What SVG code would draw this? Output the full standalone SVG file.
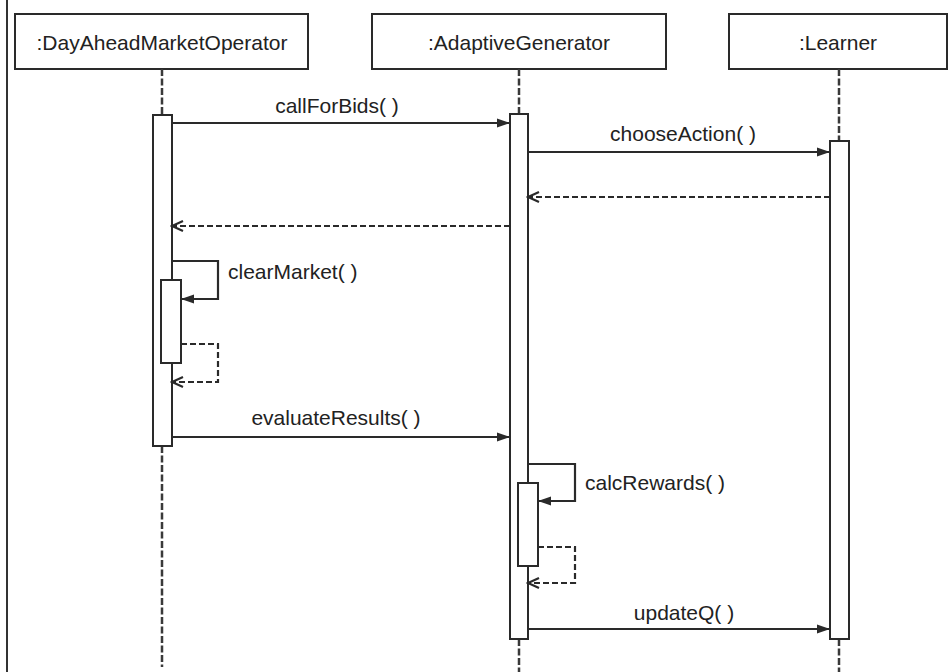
<svg xmlns="http://www.w3.org/2000/svg" width="950" height="672" viewBox="0 0 950 672">
  <style>
    .box { fill: #fff; stroke: #2a2a2a; stroke-width: 2; }
    .act { fill: #fff; stroke: #2a2a2a; stroke-width: 2; }
    .life { stroke: #3a3a3a; stroke-width: 2.5; stroke-dasharray: 7 2.5; fill: none; }
    .name { font-family: "Liberation Sans", Arial, sans-serif; font-size: 21px; fill: #222; text-anchor: middle; }
    .lbl { font-family: "Liberation Sans", Arial, sans-serif; font-size: 21px; fill: #222; }
    .msg { stroke: #2a2a2a; stroke-width: 2.2; fill: none; marker-end: url(#filled); }
    .ret { stroke: #2a2a2a; stroke-width: 2.2; fill: none; stroke-dasharray: 6 3; marker-end: url(#open); }
  </style>
  <defs>
    <marker id="filled" markerUnits="userSpaceOnUse" markerWidth="14" markerHeight="10" refX="13" refY="5" orient="auto">
      <path d="M0,0.5 L13,5 L0,9.5 z" fill="#2a2a2a"/>
    </marker>
    <marker id="open" markerUnits="userSpaceOnUse" markerWidth="14" markerHeight="12" refX="12" refY="6" orient="auto">
      <path d="M1,1 L12,6 L1,11" fill="none" stroke="#2a2a2a" stroke-width="2.2"/>
    </marker>
  </defs>
  <rect x="0" y="0" width="950" height="672" fill="#fff"/>
  <line x1="7" y1="0" x2="7" y2="672" stroke="#333" stroke-width="2"/>

  <g id="DayAheadMarketOperator">
    <rect class="box" x="15" y="14" width="293" height="55"/>
    <text class="name" x="162" y="50">:DayAheadMarketOperator</text>
    <line class="life" x1="162" y1="69" x2="162" y2="115"/>
    <line class="life" x1="162" y1="446" x2="162" y2="667"/>
    <rect class="act" x="153" y="115" width="19" height="331"/>
    <rect class="act" x="161" y="280" width="20" height="83"/>
  </g>

  <g id="AdaptiveGenerator">
    <rect class="box" x="372" y="14" width="294" height="55"/>
    <text class="name" x="519" y="50">:AdaptiveGenerator</text>
    <line class="life" x1="519" y1="69" x2="519" y2="114"/>
    <line class="life" x1="519" y1="639" x2="519" y2="672"/>
    <rect class="act" x="510" y="114" width="18" height="525"/>
    <rect class="act" x="518" y="483" width="20" height="83"/>
  </g>

  <g id="Learner">
    <rect class="box" x="729" y="14" width="218" height="55"/>
    <text class="name" x="838" y="50">:Learner</text>
    <line class="life" x1="839" y1="69" x2="839" y2="141"/>
    <line class="life" x1="839" y1="639" x2="839" y2="672"/>
    <rect class="act" x="830" y="141" width="19" height="498"/>
  </g>

  <g id="connectors">
    <path class="msg" d="M172,123 H510"/>
    <text class="lbl" x="337" y="113" text-anchor="middle">callForBids( )</text>

    <path class="msg" d="M528,152 H830"/>
    <text class="lbl" x="683" y="141" text-anchor="middle">chooseAction( )</text>

    <path class="ret" d="M830,197 H528"/>
    <path class="ret" d="M510,226 H172"/>

    <path class="msg" d="M172,261 H218 V299 H181"/>
    <text class="lbl" x="228" y="279">clearMarket( )</text>
    <path class="ret" d="M181,344 H218 V382 H172"/>

    <path class="msg" d="M172,437 H510"/>
    <text class="lbl" x="336" y="425" text-anchor="middle">evaluateResults( )</text>

    <path class="msg" d="M528,464 H575 V501 H538"/>
    <text class="lbl" x="585" y="490">calcRewards( )</text>
    <path class="ret" d="M538,547 H575 V583 H528"/>

    <path class="msg" d="M528,629 H830"/>
    <text class="lbl" x="684" y="620" text-anchor="middle">updateQ( )</text>
  </g>
</svg>
